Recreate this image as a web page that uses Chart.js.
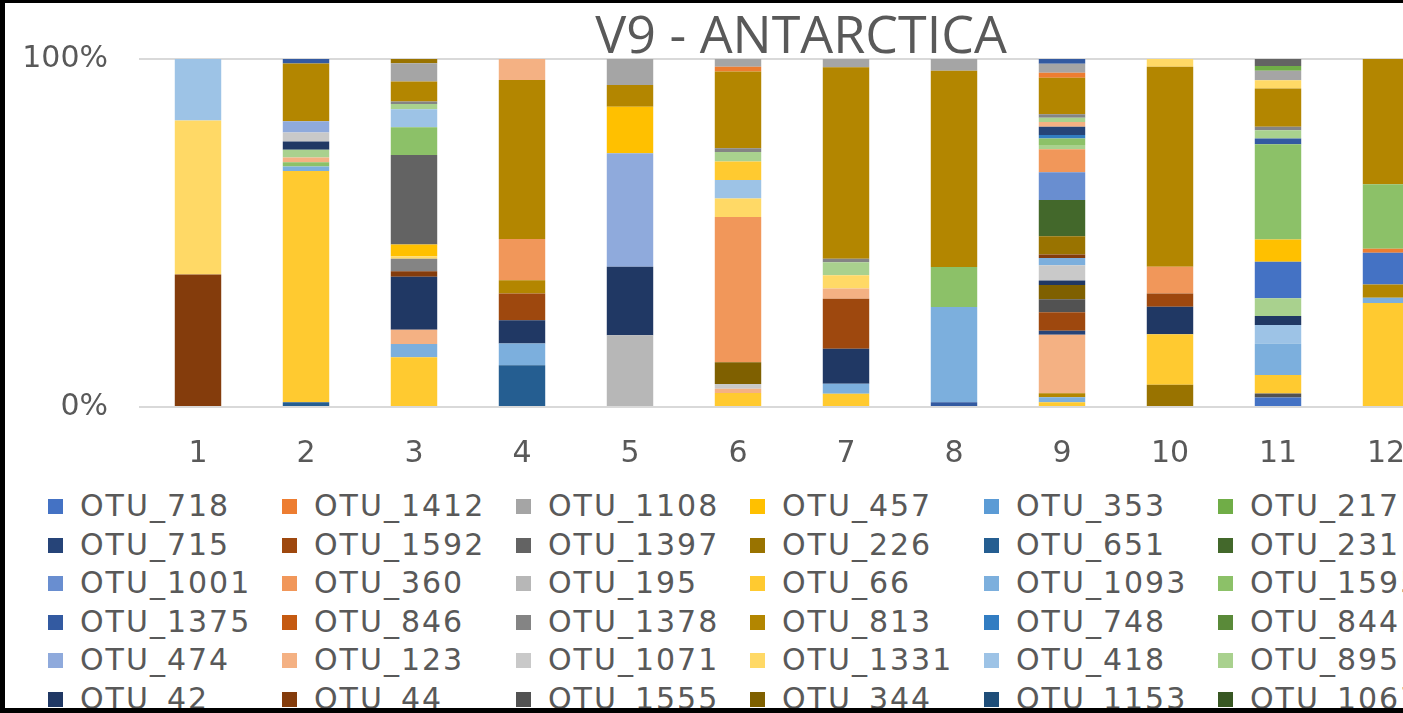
<!DOCTYPE html>
<html>
<head>
<meta charset="utf-8">
<script src="https://cdn.jsdelivr.net/npm/chart.js@4"></script>
<style>
  html, body { margin: 0; padding: 0; }
  body { width: 1403px; height: 713px; overflow: hidden; background: #fff; position: relative; font-family: "DejaVu Sans", sans-serif; }
  #wrap { position: absolute; left: 0; top: 0; width: 1440px; height: 480px; }
  #title { position: absolute; left: 0; top: 7px; width: 1602px; text-align: center; font: 52px/52px "Open Sans", sans-serif; color: #595959; }
  #legend { position: absolute; left: 48px; top: 487px; }
  .item { position: absolute; white-space: nowrap; font-size: 30px; line-height: 38px; letter-spacing: 2px; color: #595959; }
  .item span.box { display: inline-block; width: 15px; height: 15px; margin-right: 17px; vertical-align: 2px; }
  #frame { position: absolute; left: 0; top: 0; width: 1420px; height: 705px; border-top: 3px solid #000; border-left: 5px solid #000; border-bottom: 5px solid #000; box-sizing: content-box; pointer-events: none; }
</style>
</head>
<body>
<div id="wrap"><canvas id="chart"></canvas></div>
<div id="title">V9 - ANTARCTICA</div>
<div id="legend"></div>
<div id="frame"></div>
<script>
const categories = ["1", "2", "3", "4", "5", "6", "7", "8", "9", "10", "11", "12"];

// legend entries, in the order the legend shows them (row by row)
const legendOrder = [
    "OTU_718", "OTU_1412", "OTU_1108", "OTU_457", "OTU_353", "OTU_217",
    "OTU_715", "OTU_1592", "OTU_1397", "OTU_226", "OTU_651", "OTU_231",
    "OTU_1001", "OTU_360", "OTU_195", "OTU_66", "OTU_1093", "OTU_1595",
    "OTU_1375", "OTU_846", "OTU_1378", "OTU_813", "OTU_748", "OTU_844",
    "OTU_474", "OTU_123", "OTU_1071", "OTU_1331", "OTU_418", "OTU_895",
    "OTU_42", "OTU_44", "OTU_1555", "OTU_344", "OTU_1153", "OTU_1067"
];

// segments of each bar, bottom to top: [otu, share in %]
const bar1 = [["OTU_44", 38.1], ["OTU_1331", 44.2], ["OTU_418", 17.7]];
const bar2 = [["OTU_651", 1.4], ["OTU_66", 66.4], ["OTU_1093", 1.3], ["OTU_1595", 1.2], ["OTU_123", 1.4],
              ["OTU_895", 2.2], ["OTU_42", 2.4], ["OTU_1071", 2.6], ["OTU_474", 3.2], ["OTU_813", 16.6], ["OTU_1375", 1.3]];
const bar3 = [["OTU_66", 14.4], ["OTU_1093", 3.8], ["OTU_123", 4.1], ["OTU_42", 15.3], ["OTU_44", 1.6],
              ["OTU_1378", 3.6], ["OTU_1331", 0.7], ["OTU_457", 3.4], ["OTU_1397", 25.9], ["OTU_1595", 8.0],
              ["OTU_418", 5.2], ["OTU_895", 1.5], ["OTU_1378", 0.7], ["OTU_813", 5.8], ["OTU_1108", 5.3], ["OTU_226", 1.2]];
const bar4 = [["OTU_651", 12.0], ["OTU_1093", 6.2], ["OTU_42", 6.7], ["OTU_1592", 7.7], ["OTU_813", 3.8],
              ["OTU_360", 11.8], ["OTU_813", 45.7], ["OTU_123", 6.0]];
const bar5 = [["OTU_195", 20.6], ["OTU_42", 19.7], ["OTU_474", 32.6], ["OTU_457", 13.4], ["OTU_813", 6.2], ["OTU_1108", 7.5]];
const bar6 = [["OTU_66", 4.0], ["OTU_123", 1.2], ["OTU_1071", 1.4], ["OTU_344", 6.2], ["OTU_360", 41.7],
              ["OTU_1331", 5.3], ["OTU_418", 5.3], ["OTU_66", 5.3], ["OTU_895", 2.7], ["OTU_1378", 1.1],
              ["OTU_813", 22.0], ["OTU_1412", 1.4], ["OTU_1108", 2.2]];
const bar7 = [["OTU_66", 3.8], ["OTU_1093", 2.9], ["OTU_42", 10.1], ["OTU_1592", 14.4], ["OTU_123", 2.9],
              ["OTU_1331", 3.8], ["OTU_895", 3.8], ["OTU_1378", 1.0], ["OTU_813", 55.1], ["OTU_1108", 2.4]];
const bar8 = [["OTU_1375", 1.4], ["OTU_1093", 27.3], ["OTU_1595", 11.5], ["OTU_813", 56.4], ["OTU_1108", 3.4]];
const bar9 = [["OTU_66", 1.4], ["OTU_1093", 1.4], ["OTU_813", 1.2], ["OTU_123", 16.9], ["OTU_715", 1.2],
              ["OTU_1592", 5.3], ["OTU_1555", 3.8], ["OTU_344", 4.1], ["OTU_42", 1.3], ["OTU_1071", 4.4],
              ["OTU_1093", 2.1], ["OTU_44", 1.0], ["OTU_226", 5.3], ["OTU_231", 10.5], ["OTU_1001", 8.0],
              ["OTU_360", 6.7], ["OTU_895", 1.2], ["OTU_1595", 1.9], ["OTU_748", 1.0], ["OTU_715", 2.4],
              ["OTU_123", 1.4], ["OTU_895", 1.2], ["OTU_1378", 1.0], ["OTU_813", 10.6], ["OTU_1412", 1.4],
              ["OTU_1108", 2.6], ["OTU_1375", 1.4]];
const bar10 = [["OTU_226", 6.4], ["OTU_66", 14.5], ["OTU_42", 7.9], ["OTU_1592", 3.8], ["OTU_360", 7.7],
               ["OTU_813", 57.5], ["OTU_1331", 2.2]];
const bar11 = [["OTU_718", 2.7], ["OTU_1555", 1.2], ["OTU_66", 5.3], ["OTU_1093", 9.1], ["OTU_418", 5.3],
               ["OTU_42", 2.6], ["OTU_895", 5.1], ["OTU_718", 10.5], ["OTU_457", 6.4], ["OTU_1595", 27.4],
               ["OTU_1375", 1.6], ["OTU_895", 2.4], ["OTU_1378", 1.0], ["OTU_813", 11.0], ["OTU_1331", 2.4],
               ["OTU_1108", 2.7], ["OTU_217", 1.4], ["OTU_1397", 2.0]];
const bar12 = [["OTU_66", 29.9], ["OTU_1093", 1.5], ["OTU_813", 3.8], ["OTU_718", 9.1], ["OTU_1412", 1.2],
               ["OTU_1595", 18.5], ["OTU_813", 36.0]];

const bars = [bar1, bar2, bar3, bar4, bar5, bar6, bar7, bar8, bar9, bar10, bar11, bar12];

const otuColors = {
    OTU_718: "#4472C4", OTU_1412: "#ED7D31", OTU_1108: "#A5A5A5", OTU_457: "#FFC000", OTU_353: "#5B9BD5", OTU_217: "#70AD47",
    OTU_715: "#264478", OTU_1592: "#9E480E", OTU_1397: "#636363", OTU_226: "#997300", OTU_651: "#255E91", OTU_231: "#43682B",
    OTU_1001: "#698ED0", OTU_360: "#F1975A", OTU_195: "#B7B7B7", OTU_66: "#FFCA30", OTU_1093: "#7CAFDD", OTU_1595: "#8CC168",
    OTU_1375: "#335AA1", OTU_846: "#C55A11", OTU_1378: "#848484", OTU_813: "#B38600", OTU_748: "#327DC2", OTU_844: "#5A8A39",
    OTU_474: "#8FAADC", OTU_123: "#F4B183", OTU_1071: "#C9C9C9", OTU_1331: "#FFD966", OTU_418: "#9DC3E6", OTU_895: "#A9D18E",
    OTU_42: "#203864", OTU_44: "#843C0C", OTU_1555: "#525252", OTU_344: "#7F6000", OTU_1153: "#1F4E79", OTU_1067: "#385723"
};

// one dataset per stacking level, each bar scaled to 100%
const sums = bars.map(b => b.reduce((s, seg) => s + seg[1], 0));
const layers = Math.max(...bars.map(b => b.length));
const datasets = [];
for (let k = 0; k < layers; k++) {
    datasets.push({
        label: "level " + (k + 1),
        data: bars.map((b, i) => b[k] ? b[k][1] / sums[i] * 100 : 0),
        backgroundColor: bars.map(b => b[k] ? otuColors[b[k][0]] : "rgba(0,0,0,0)"),
        otu: bars.map(b => b[k] ? b[k][0] : ""),
        borderWidth: 0
    });
}

const tickFont = { family: "DejaVu Sans", size: 30 };

new Chart(document.getElementById("chart"), {
    type: "bar",
    data: { labels: categories, datasets: datasets },
    options: {
        responsive: true,
        maintainAspectRatio: false,
        animation: false,
        layout: { padding: { top: 59, left: 0, right: 0, bottom: 0 } },
        datasets: { bar: { categoryPercentage: 0.43, barPercentage: 1 } },
        plugins: {
            legend: { display: false },
            title: { display: false },
            tooltip: {
                callbacks: {
                    label: (c) => c.dataset.otu[c.dataIndex] + ": " + c.parsed.y.toFixed(1) + "%"
                }
            }
        },
        scales: {
            x: {
                stacked: true,
                grid: { display: false, drawTicks: false },
                border: { display: false },
                ticks: { font: tickFont, color: "#595959", padding: 29, maxRotation: 0 },
                afterFit: (s) => { s.height = 73; }
            },
            y: {
                stacked: true,
                min: 0,
                max: 100,
                grid: { color: "#D9D9D9", lineWidth: 2, drawTicks: true, tickLength: 5 },
                border: { display: false },
                ticks: { stepSize: 100, font: tickFont, color: "#595959", padding: 31, callback: v => v + "%" },
                afterFit: (s) => { s.width = 144; }
            }
        }
    }
});

// legend: 6 columns, filled row by row
const legendEl = document.getElementById("legend");
legendOrder.forEach((name, i) => {
    const col = i % 6, row = Math.floor(i / 6);
    const d = document.createElement("div");
    d.className = "item";
    d.style.left = (col * 234) + "px";
    d.style.top = (row * 38.6) + "px";
    d.innerHTML = '<span class="box" style="background:' + otuColors[name] + '"></span>' + name;
    legendEl.appendChild(d);
});
</script>
</body>
</html>
